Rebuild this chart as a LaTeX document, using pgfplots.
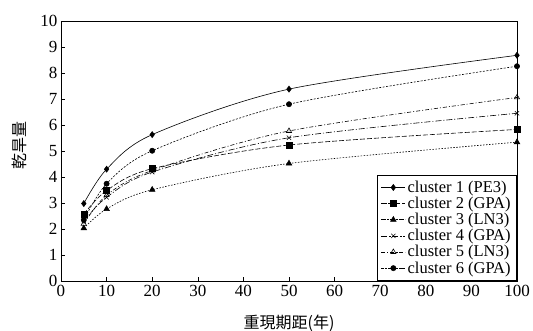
\documentclass[border=0pt]{standalone}
\usepackage{pgfplots}
\pgfplotsset{compat=1.18}
\usepackage{fontspec}
\setmainfont{Liberation Serif}
\newfontfamily\cjk{Noto Sans CJK TC}
\begin{document}
\begin{tikzpicture}
\useasboundingbox (-61bp,-50bp) rectangle (472bp,281bp);
\begin{axis}[
  at={(0bp,0bp)}, anchor=south west,
  scale only axis,
  width=456bp, height=260bp,
  xmin=0, xmax=100, ymin=0, ymax=10,
  xtick={0,10,...,100}, ytick={0,1,...,10},
  xticklabels={0,10,20,30,40,50,60,70,80,90,100},
  yticklabels={0,1,2,3,4,5,6,7,8,9,10},
  tick align=inside,
  tick pos=left,
  major tick length=4bp,
  axis line style={line width=0.8pt},
  tick style={line width=0.6pt, black},
  tick label style={font=\fontsize{17bp}{19bp}\selectfont},
  xticklabel style={yshift=-1bp},
  xlabel={\cjk 重現期距(年)},
  ylabel={\cjk 乾旱量},
  xlabel style={font=\fontsize{16bp}{18bp}\selectfont, at={(axis description cs:0.5,-0.162)}, anchor=center},
  ylabel style={font=\fontsize{16bp}{18bp}\selectfont, at={(axis description cs:-0.092,0.52)}, anchor=center},
  legend cell align=left,
  legend style={font=\fontsize{16.5bp}{17bp}\selectfont, draw=black, line width=0.8pt, inner xsep=4bp, inner ysep=4bp, row sep=-0.8bp, at={(1,0)}, anchor=south east},
  legend image code/.code={\draw[mark repeat=2,mark phase=2,#1] plot coordinates {(0bp,0bp) (12bp,0bp) (24bp,0bp)};},
  legend image post style={line width=0.6pt},
  every axis plot/.append style={black, line width=0.6pt},
]
\addplot[solid, smooth, mark=diamond*, mark size=3bp, mark options={solid}] coordinates {(5,2.98) (10,4.30) (20,5.63) (50,7.38) (100,8.68)};
\addlegendentry{cluster 1 (PE3)}
\addplot[dash pattern=on 5bp off 2bp, smooth, mark=square*, mark size=3bp, mark options={solid}] coordinates {(5,2.57) (10,3.48) (20,4.32) (50,5.23) (100,5.83)};
\addlegendentry{cluster 2 (GPA)}
\addplot[dash pattern=on 1.5bp off 1.5bp, smooth, mark=triangle*, mark size=3.2bp, mark options={solid}] coordinates {(5,2.03) (10,2.77) (20,3.51) (50,4.52) (100,5.34)};
\addlegendentry{cluster 3 (LN3)}
\addplot[dash pattern=on 6bp off 2bp on 1bp off 2bp, smooth, mark=x, mark size=3bp, mark options={solid}] coordinates {(5,2.30) (10,3.22) (20,4.19) (50,5.51) (100,6.45)};
\addlegendentry{cluster 4 (GPA)}
\addplot[dash pattern=on 4bp off 2bp on 1bp off 2bp, smooth, mark=triangle, mark size=3bp, mark options={solid}] coordinates {(5,2.20) (10,3.30) (20,4.25) (50,5.77) (100,7.06)};
\addlegendentry{cluster 5 (LN3)}
\addplot[dash pattern=on 2bp off 1.5bp, smooth, mark=*, mark size=2.6bp, mark options={solid}] coordinates {(5,2.35) (10,3.74) (20,5.01) (50,6.80) (100,8.26)};
\addlegendentry{cluster 6 (GPA)}
\end{axis}
\end{tikzpicture}
\end{document}
